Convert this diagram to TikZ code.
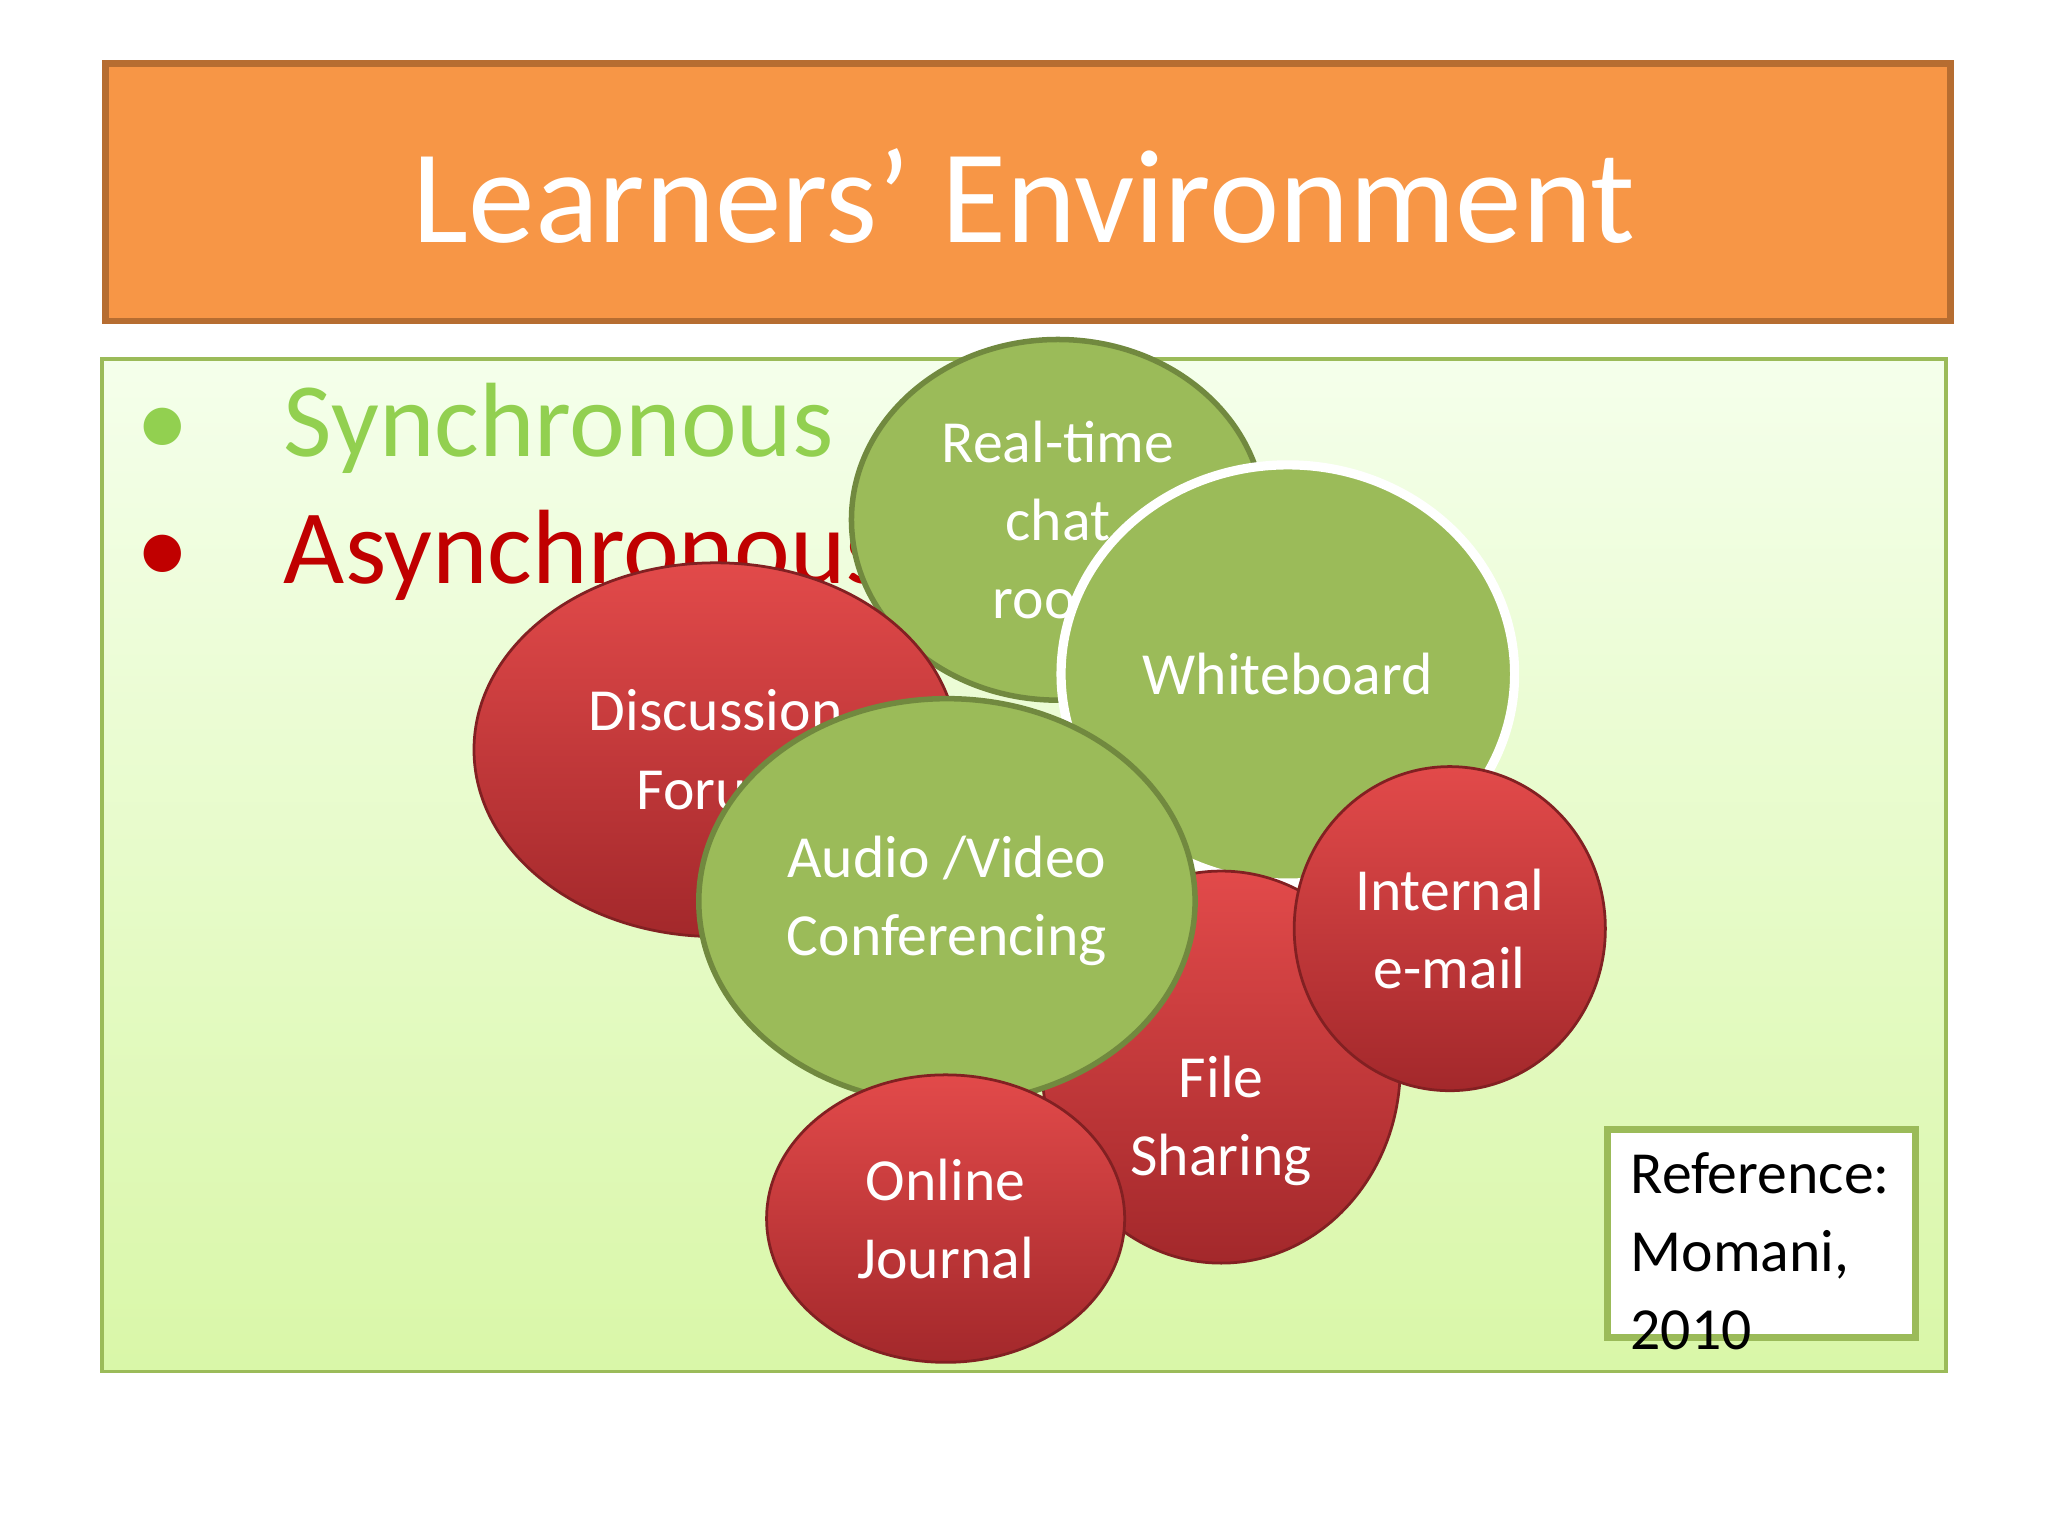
\documentclass[tikz,border=0pt]{standalone}
\usepackage{fontspec}
\setmainfont{Carlito}
\usetikzlibrary{shapes.geometric}
\definecolor{orng}{HTML}{F79646}
\definecolor{orngd}{HTML}{B66D31}
\definecolor{grn}{HTML}{9BBB59}
\definecolor{grnd}{HTML}{71893F}
\definecolor{redt}{HTML}{E24A4A}
\definecolor{redb}{HTML}{A3282B}
\tikzset{
 gball/.style={ellipse, fill=grn, draw=grnd, line width=1.2pt, text=white, align=center, font=\fontsize{13}{17}\selectfont},
 rball/.style={ellipse, top color=redt, bottom color=redb, draw=redb!80!black, line width=0.6pt, text=white, align=center, font=\fontsize{13}{17}\selectfont},
}
\begin{document}
\begin{tikzpicture}[x=0.01cm,y=-0.01cm]
\useasboundingbox (0,0) rectangle (1568,1176);
\fill[white] (0,0) rectangle (1568,1176);
\node[draw=orngd, line width=1.5pt, fill=orng, minimum width=14.12cm, minimum height=1.97cm, anchor=north west, inner sep=0] (title) at (78,46) {};
\node[text=white, font=\fontsize{29}{34}\selectfont] (tt) at (784,150) {Learners’ Environment};
\shade[top color=green!3!white!95!lime, bottom color={rgb,255:red,217;green,247;blue,168}, draw=grn, line width=0.8pt] (78,275) rectangle (1490,1050);
\node[anchor=west, text={rgb,255:red,146;green,208;blue,80}, font=\fontsize{23}{28}\selectfont] (s1) at (92,328) {•\hspace{0.9em}Synchronous};
\node[anchor=west, text={rgb,255:red,192;green,0;blue,0}, font=\fontsize{23}{28}\selectfont] (s2) at (92,425) {•\hspace{0.9em}Asynchronous};
\node[gball, minimum width=3.16cm, minimum height=2.76cm] (rt) at (810,398) {Real-time\\chat\\room};
\node[gball, draw=white, line width=2pt, minimum width=3.26cm, minimum height=3.2cm] (wb) at (986,516) {Whiteboard};
\node[rball, minimum width=2.74cm, minimum height=3.0cm] (fs) at (935,817) {\\[1.2em]File\\Sharing};
\node[rball, minimum width=3.7cm, minimum height=2.86cm] (df) at (548,574) {Discussion\\Forum};
\node[gball, minimum width=3.5cm, minimum height=3.1cm] (av) at (725,690) {Audio /Video\\Conferencing};
\node[rball, minimum width=2.74cm, minimum height=2.2cm] (oj) at (724,933) {Online\\Journal};
\node[rball, minimum width=2.36cm, minimum height=2.48cm] (ie) at (1110,711) {Internal\\e-mail};
\node[draw=grn, line width=1.5pt, fill=white, minimum width=2.36cm, minimum height=1.59cm, anchor=north west, inner sep=0] (refbox) at (1228,862) {};
\node[anchor=north west, align=left, font=\fontsize{13}{17}\selectfont] (ref) at (1236,870) {Reference:\\Momani,\\2010};
\end{tikzpicture}
\end{document}
